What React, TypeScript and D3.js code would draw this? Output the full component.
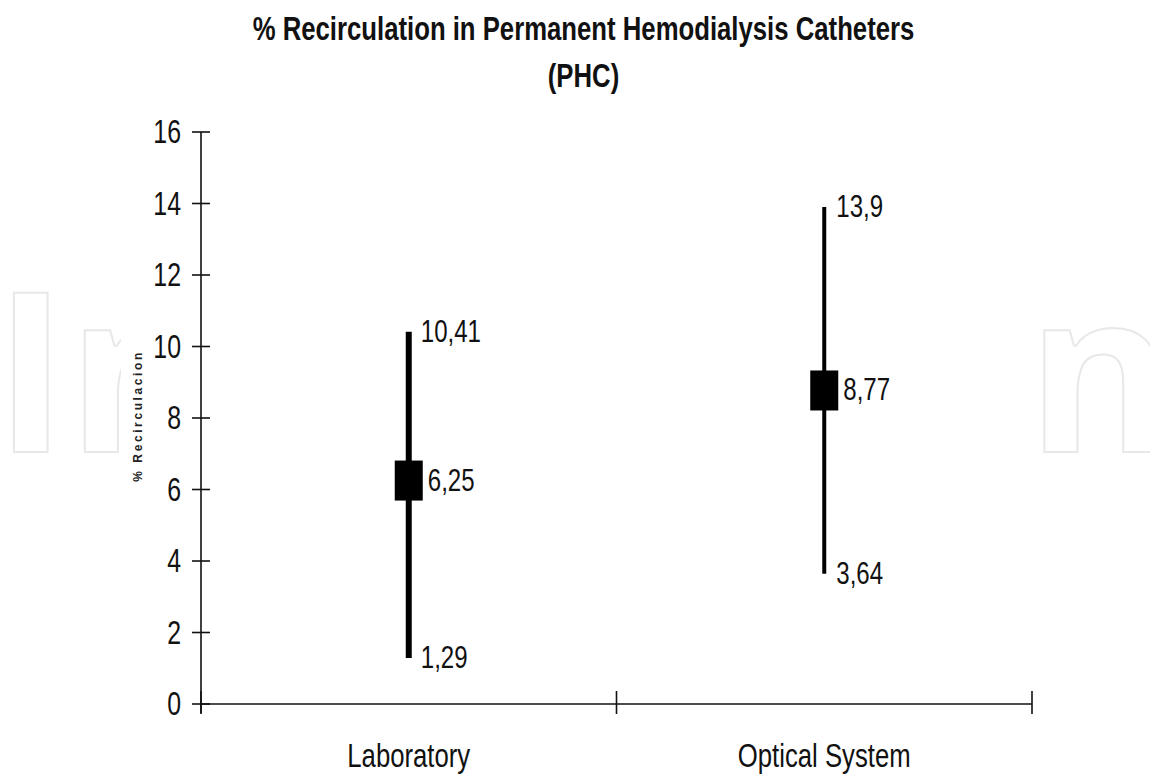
import { useMemo } from 'react';
import * as d3 from 'd3';

// data
const categories = ['Laboratory', 'Optical System'];
const lows = [1.29, 3.64];
const means = [6.25, 8.77];
const highs = [10.41, 13.9];
const valueLabels = [
  ['1,29', '6,25', '10,41'],
  ['3,64', '8,77', '13,9'],
];
const yTicks = [0, 2, 4, 6, 8, 10, 12, 14, 16];
const barWidths = [6, 4];

const W = 1150;
const H = 774;
const FONT = '"Liberation Sans", Arial, sans-serif';
// the source uses a condensed face and the picture is a bit taller than wide
const SX = 0.83;
const SY = 1.1;

function Label({
  x,
  y,
  size,
  anchor = 'start',
  weight = 400,
  children,
}: {
  x: number;
  y: number;
  size: number;
  anchor?: 'start' | 'middle' | 'end';
  weight?: number;
  children: string;
}) {
  return (
    <text
      transform={`translate(${x},${y}) scale(${SX},${SY})`}
      fontFamily={FONT}
      fontSize={size}
      fontWeight={weight}
      textAnchor={anchor}
      fill="#111"
    >
      {children}
    </text>
  );
}

export default function App() {
  const x = useMemo(() => d3.scaleBand<string>().domain(categories).range([201, 1032]).padding(0), []);
  const y = useMemo(() => d3.scaleLinear().domain([0, 16]).range([704, 132]), []);
  const [x0, x1] = x.range();
  const y0 = y(0);
  const bounds = [x0, ...categories.map((c) => (x(c) ?? 0) + x.bandwidth())];

  return (
    <svg
      width={W}
      height={H}
      viewBox={`0 0 ${W} ${H}`}
      style={{ position: 'absolute', left: 0, top: 0, background: '#fff' }}
    >
      <rect width={W} height={H} fill="#fff" />

      {/* faint publisher watermark, mostly hidden behind the plot */}
      <g fill="none" stroke="#e8e8e8" strokeWidth={2} fontFamily='"Open Sans", sans-serif' fontWeight={700} fontSize={222}>
        <text x={-6} y={452}>In</text>
        <text x={1027} y={452}>n</text>
      </g>
      <rect x={121} y={0} width={919} height={H} fill="#fff" />

      <Label x={583.5} y={39.5} size={31} weight={700} anchor="middle">
        % Recirculation in Permanent Hemodialysis Catheters
      </Label>
      <Label x={583.5} y={87} size={31} weight={700} anchor="middle">
        (PHC)
      </Label>

      {/* y axis */}
      <g stroke="#111" strokeWidth={1.6}>
        <line x1={x0} x2={x0} y1={y(16)} y2={y0 + 9} />
        {yTicks.map((t) => (
          <line key={t} x1={x0 - 9} x2={x0 + 9} y1={y(t)} y2={y(t)} />
        ))}
      </g>
      {yTicks.map((t) => (
        <Label key={t} x={181} y={y(t) + 11} size={30} anchor="end">
          {String(t)}
        </Label>
      ))}
      <text
        transform={`translate(142,${416}) rotate(-90)`}
        fontFamily={FONT}
        fontSize={12}
        fontWeight={700}
        letterSpacing={2.6}
        textAnchor="middle"
        fill="#222"
      >
        % Recirculacion
      </text>

      {/* x axis */}
      <g stroke="#111" strokeWidth={1.6}>
        <line x1={x0} x2={x1} y1={y0} y2={y0} />
        {bounds.map((b, i) => (
          <line key={i} x1={b} x2={b} y1={y0 - 13} y2={y0 + 10} />
        ))}
      </g>
      {categories.map((c) => (
        <Label key={c} x={(x(c) ?? 0) + x.bandwidth() / 2} y={767} size={31} anchor="middle">
          {c}
        </Label>
      ))}

      {/* range lines with mean markers */}
      {categories.map((c, i) => {
        const cx = (x(c) ?? 0) + x.bandwidth() / 2;
        const pts = [lows[i], means[i], highs[i]];
        return (
          <g key={c}>
            <line x1={cx} x2={cx} y1={y(lows[i])} y2={y(highs[i])} stroke="#000" strokeWidth={barWidths[i]} />
            <rect x={cx - 14} y={y(means[i]) - 20} width={28} height={40} fill="#000" />
            {pts.map((v, j) => (
              <Label key={j} x={cx + (j === 1 ? 19 : 12)} y={y(v) + 10} size={29}>
                {valueLabels[i][j]}
              </Label>
            ))}
          </g>
        );
      })}
    </svg>
  );
}
